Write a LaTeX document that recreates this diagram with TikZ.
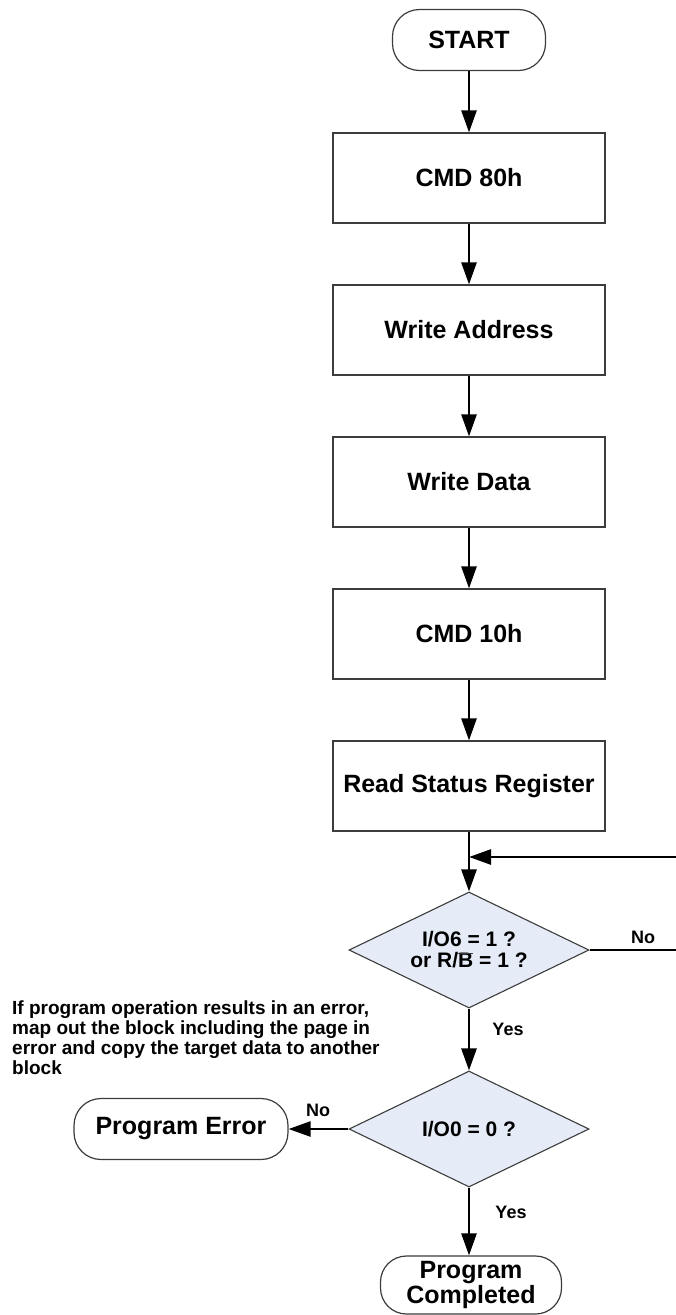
\documentclass[tikz,border=0pt]{standalone}
\usepackage{fontspec}
\setmainfont{Liberation Sans}
\usetikzlibrary{shapes.geometric,arrows.meta}
\definecolor{decfill}{RGB}{230,236,247}
\definecolor{edge}{RGB}{60,60,60}
\begin{document}
\begin{tikzpicture}[x=1pt,y=-1pt,
  every node/.style={font=\bfseries},
  stepbox/.style={draw=edge,line width=1.2pt,minimum width=272pt,minimum height=90pt,inner sep=0pt,font=\fontsize{25}{28}\selectfont\bfseries},
  term/.style={draw=edge,line width=1.2pt,rounded corners=27pt,inner sep=0pt,align=center,font=\fontsize{25}{25}\selectfont\bfseries},
  dec/.style={diamond,aspect=2.07,draw=edge,line width=1.1pt,fill=decfill,minimum width=240pt,minimum height=116pt,inner sep=0pt,align=center,font=\fontsize{21}{21}\selectfont\bfseries},
  flow/.style={line width=2.6pt,-{Triangle[length=22pt,width=15pt]}},
  lbl/.style={font=\fontsize{18}{20}\selectfont\bfseries}]
\path[use as bounding box,clip] (0,0) rectangle (676,1315);
\node[term,minimum width=153pt,minimum height=61pt] (start) at (469,40) {START};
\node[stepbox] (b1) at (469,178) {CMD 80h};
\node[stepbox] (b2) at (469,330) {Write Address};
\node[stepbox] (b3) at (469,482) {Write Data};
\node[stepbox] (b4) at (469,634) {CMD 10h};
\node[stepbox] (b5) at (469,786) {Read Status Register};
\node[dec] (d1) at (469,950) {I/O6 = 1 ?\\or R/B = 1 ?};
\draw[edge,line width=1pt] ([shift={(-12pt,-3pt)}]d1.center) -- ([shift={(4pt,-3pt)}]d1.center);
\node[dec] (d2) at (469,1129) {I/O0 = 0 ?};
\node[term,minimum width=214pt,minimum height=61pt] (pe) at (181,1129) {Program Error};
\node[term,minimum width=181pt,minimum height=58pt,rounded corners=26pt] (pc) at (471,1285) {Program\\Completed};
\node[anchor=north west,align=left,inner sep=0pt,font=\fontsize{19}{20}\selectfont\bfseries] (note) at (12,1001)
  {If program operation results in an error,\\map out the block including the page in\\error and copy the target data to another\\block};
\coordinate (j) at (469,857);
\coordinate (ea) at (700,950);
\coordinate (eb) at (700,857);
\draw[flow] (start.south) -- (b1.north);
\draw[flow] (b1.south) -- (b2.north);
\draw[flow] (b2.south) -- (b3.north);
\draw[flow] (b3.south) -- (b4.north);
\draw[flow] (b4.south) -- (b5.north);
\draw[flow] (b5.south) -- (d1.north);
\draw[flow] (d1.east) -- (ea) -- (eb) -- (j);
\draw[flow] (d1.south) -- (d2.north);
\draw[flow] (d2.west) -- (pe.east);
\draw[flow] (d2.south) -- (d2.south |- pc.north);
\node[lbl] (no1) at (643,937) {No};
\node[lbl] (yes1) at (508,1029) {Yes};
\node[lbl] (no2) at (318,1110) {No};
\node[lbl] (yes2) at (511,1212) {Yes};
\end{tikzpicture}
\end{document}
